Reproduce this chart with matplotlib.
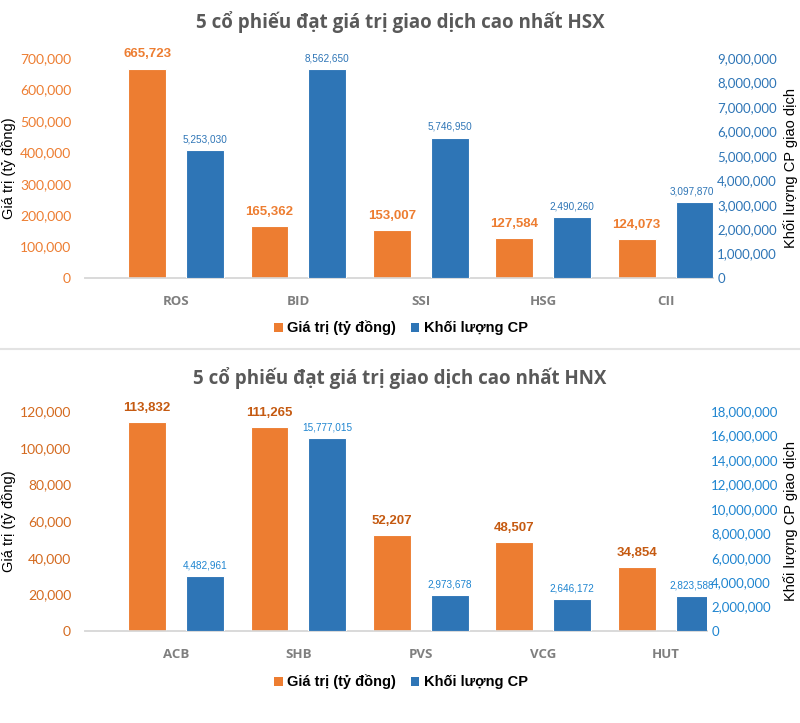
import matplotlib
matplotlib.use("Agg")
import matplotlib.pyplot as plt
from matplotlib.patches import Patch
from matplotlib.lines import Line2D
from matplotlib.ticker import FuncFormatter, MultipleLocator
import numpy as np

# ---------------- data ----------------
hsx_codes = ["ROS", "BID", "SSI", "HSG", "CII"]
hsx_value = [665723, 165362, 153007, 127584, 124073]          # Giá trị (tỷ đồng)
hsx_volume = [5253030, 8562650, 5746950, 2490260, 3097870]     # Khối lượng CP

hnx_codes = ["ACB", "SHB", "PVS", "VCG", "HUT"]
hnx_value = [113832, 111265, 52207, 48507, 34854]
hnx_volume = [4482961, 15777015, 2973678, 2646172, 2823588]

title_hsx = "5 cổ phiếu đạt giá trị giao dịch cao nhất HSX"
title_hnx = "5 cổ phiếu đạt giá trị giao dịch cao nhất HNX"
series_names = ["Giá trị (tỷ đồng)", "Khối lượng CP"]
ylabel_left = "Giá trị (tỷ đồng)"
ylabel_right = "Khối lượng CP giao dịch"

ORANGE = "#ED7D31"
BLUE = "#2E75B6"
W, H = 800, 723

fig = plt.figure(figsize=(8, 7.23), dpi=100)
fig.patch.set_facecolor("white")

comma = FuncFormatter(lambda v, p: f"{int(round(v)):,}")
ARIAL = ["Liberation Sans", "DejaVu Sans"]
MAIN = ["Lato", "DejaVu Sans"]
OPEN = ["Open Sans", "DejaVu Sans"]


def panel(ax_px, codes, vals, vols, lmax, lstep, rmax, rstep, title, title_y,
          legend_y, lab_orange, lab_blue, tick_orange, tick_blue):
    x0, top, x1, bot = ax_px
    ax = fig.add_axes([x0 / W, 1 - bot / H, (x1 - x0) / W, (bot - top) / H])
    ax2 = ax.twinx()
    idx = np.arange(len(codes))
    spacing = 122.4
    c0 = 176
    left = -(c0 - x0) / spacing
    right = (x1 - c0) / spacing
    off = 0.236
    bw = 0.31
    b1 = ax.bar(idx - off, vals, width=bw, color=ORANGE, edgecolor="white", linewidth=0.8, zorder=3)
    b2 = ax2.bar(idx + off, vols, width=bw, color=BLUE, edgecolor="white", linewidth=0.8, zorder=3)
    for a in (ax, ax2):
        a.set_xlim(left, right)
        for s in ("top", "right", "left"):
            a.spines[s].set_visible(False)
        a.spines["bottom"].set_color("#D9D9D9")
        a.spines["bottom"].set_linewidth(1.2)
    ax.set_ylim(0, lmax)
    ax2.set_ylim(0, rmax)
    ax.yaxis.set_major_locator(MultipleLocator(lstep))
    ax2.yaxis.set_major_locator(MultipleLocator(rstep))
    ax.yaxis.set_major_formatter(comma)
    ax2.yaxis.set_major_formatter(comma)
    ax.tick_params(axis="y", length=0, pad=10, labelcolor=tick_orange, labelsize=10)
    ax2.tick_params(axis="y", length=0, pad=3, labelcolor=tick_blue, labelsize=9.5)
    for t in ax.get_yticklabels() + ax2.get_yticklabels():
        t.set_family(MAIN)
    ax.set_xticks(idx)
    ax.set_xticklabels(codes, fontsize=9.5, fontweight="bold", color="#7F7F7F", family=OPEN)
    ax.tick_params(axis="x", length=0, pad=12)
    ax2.tick_params(axis="x", length=0)
    for r, v in zip(b1, vals):
        ax.annotate(f"{v:,}", (r.get_x() + r.get_width() / 2, v), xytext=(0, 6),
                    textcoords="offset points", ha="center", va="bottom",
                    fontsize=9.5, fontweight="bold", color=lab_orange, family=ARIAL)
    n = len(vols)
    for i, (r, v) in enumerate(zip(b2, vols)):
        dx = -2 if i == n - 1 else 0
        ax2.annotate(f"{v:,}", (r.get_x() + r.get_width() / 2, v), xytext=(dx, 4),
                     textcoords="offset points", ha="center", va="bottom",
                     fontsize=7.2, color=lab_blue, family=ARIAL)
    fig.text(400 / W, 1 - title_y / H, title, ha="center", va="center",
             fontsize=13.5, fontweight="bold", color="#595959", family=OPEN)
    mid = 1 - (top + bot) / 2 / H
    fig.text(9 / W, mid, ylabel_left, rotation=90, ha="center", va="center",
             fontsize=10.5, color="black", family=ARIAL)
    fig.text(791 / W, mid, ylabel_right, rotation=90, ha="center", va="center",
             fontsize=10.5, color="black", family=ARIAL)
    handles = [Patch(facecolor=ORANGE), Patch(facecolor=BLUE)]
    fig.legend(handles, series_names, loc="center", bbox_to_anchor=(401 / W, 1 - legend_y / H),
               ncol=2, frameon=False, handlelength=0.6, handleheight=0.6, handletextpad=0.3,
               columnspacing=1.0, prop={"weight": "bold", "size": 10.5, "family": ARIAL})
    return ax, ax2


panel((85, 58, 713, 278), hsx_codes, hsx_value, hsx_volume, 700000, 100000, 9000000, 1000000,
      title_hsx, 22, 328, ORANGE, BLUE, ORANGE, BLUE)
panel((85, 411, 707, 631), hnx_codes, hnx_value, hnx_volume, 120000, 20000, 18000000, 2000000,
      title_hnx, 378, 682, "#C55A11", "#1F85D0", "#D46A1F", "#1F85D0")

fig.add_artist(Line2D([0, 1], [1 - 348.5 / H, 1 - 348.5 / H], transform=fig.transFigure,
                      color="#E3E3E3", linewidth=1.5))

fig.savefig("out.png", dpi=100, facecolor="white")
